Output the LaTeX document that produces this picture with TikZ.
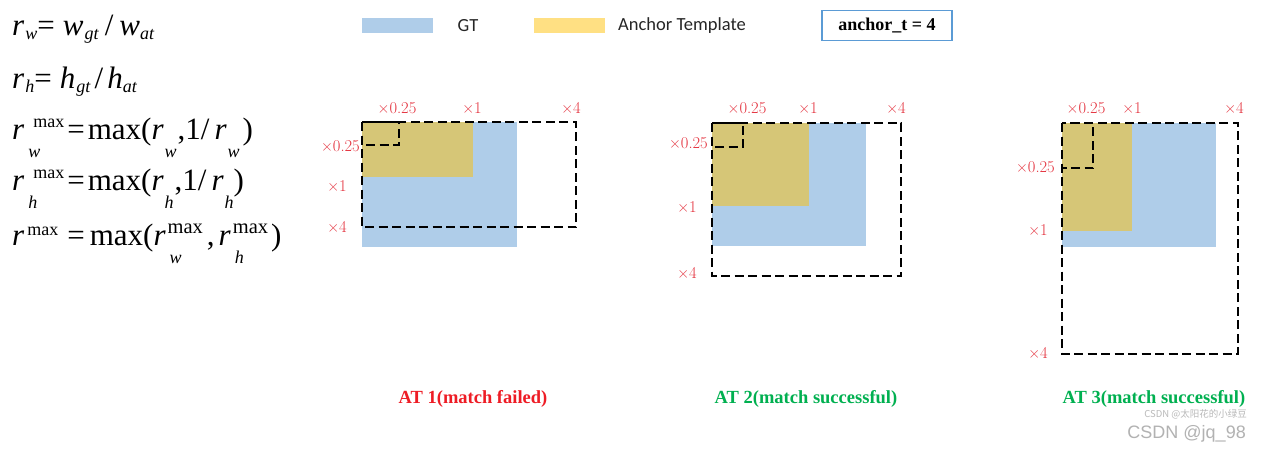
\documentclass[tikz,border=0pt]{standalone}
\usepackage[no-math]{fontspec}
\setmainfont{Liberation Serif}
\newfontfamily\lmfont{Latin Modern Roman}
\newfontfamily\legendfont{Carlito}
\newfontfamily\wmfont{Liberation Sans}
\newfontfamily\cjkfont{Noto Sans CJK SC}
\usepackage{tikz}
\usetikzlibrary{calc}

\definecolor{gtblue}{HTML}{AFCDE9}
\definecolor{atgold}{HTML}{D6C677}
\definecolor{keygold}{HTML}{FFE083}
\definecolor{lblred}{HTML}{E4303C}
\definecolor{failred}{HTML}{EE1C25}
\definecolor{okgreen}{HTML}{00B050}
\definecolor{boxblue}{HTML}{5B9BD5}

\newcommand{\scr}{\fontsize{18}{18}\selectfont}
\newcommand{\bigscr}{\fontsize{20.5}{20.5}\selectfont}
\newcommand{\rsb}[1]{\textit{r}\raisebox{-18pt}{\hspace{1pt}\scr\textit{#1}}}
\newcommand{\rms}[3][3pt]{\textit{r}\rlap{\hspace{4pt}\raisebox{-18pt}{\scr\textit{#2}}}\hspace{#1}\raisebox{12pt}{#3}}

\begin{document}
\begin{tikzpicture}[x=1pt, y=-1pt,
    formula/.style={anchor=base west, inner sep=0pt, font=\fontsize{31}{31}\selectfont},
    scalelbl/.style={text=lblred, inner sep=0pt, font=\lmfont\fontsize{16.5}{16.5}\selectfont},
    scalebox/.style={draw=black, line width=1.8pt, dash pattern=on 9pt off 4.5pt},
    attitle/.style={inner sep=0pt, font=\fontsize{18.5}{18.5}\selectfont\bfseries},
    swatch/.style={inner sep=0pt, minimum width=71pt, minimum height=15pt},
    keytext/.style={inner sep=0pt, text=black!85, font=\legendfont\fontsize{18.5}{18.5}\selectfont}]
\fill[white] (0,0) rectangle (1261,450);
\useasboundingbox (0,0) rectangle (1261,450);

% --- RATIO FORMULAS (LEFT) ---
\node[formula] (eqrw) at (12,35) {\textit{r}\raisebox{-4pt}{\hspace{1pt}\scr\textit{w}}=\hspace{8pt}\textit{w}\raisebox{-4pt}{\hspace{1pt}\scr\textit{gt}}\hspace{6pt}/\hspace{6pt}\textit{w}\raisebox{-4pt}{\scr\textit{at}}};
\node[formula] (eqrh) at (12,88) {\textit{r}\raisebox{-4pt}{\hspace{1pt}\scr\textit{h}}=\hspace{8pt}\textit{h}\raisebox{-4pt}{\hspace{1pt}\scr\textit{gt}}\hspace{4pt}/\hspace{4pt}\textit{h}\raisebox{-4pt}{\scr\textit{at}}};
\node[formula] (eqrwmax) at (12,139) {\rms[9pt]{w}{\scr max}\hspace{3pt}=\hspace{3pt}max(\rsb{w}\hspace{1pt},1/\hspace{5pt}\rsb{w}\hspace{3pt})};
\node[formula] (eqrhmax) at (12,190) {\rms[9pt]{h}{\scr max}\hspace{3pt}=\hspace{3pt}max(\rsb{h}\hspace{1pt},1/\hspace{5pt}\rsb{h})};
\node[formula] (eqrmax) at (12,245) {\textit{r}\hspace{3pt}\raisebox{10pt}{\scr max}\hspace{9pt}=\hspace{5pt}max(\rms[2pt]{w}{\bigscr max}\hspace{4pt},\hspace{4pt}\rms[2pt]{h}{\bigscr max}\hspace{3pt})};

% --- LEGEND ---
\node[swatch, fill=gtblue] (gtkey) at (397.5,25.5) {};
\node[keytext] (gtname) at (468,26) {GT};
\node[swatch, fill=keygold] (atkey) at (569,25.5) {};
\node[keytext, anchor=west] (atname) at (618,26) {Anchor Template};
\node[draw=boxblue, line width=1.5pt, minimum width=130pt, minimum height=30pt,
      font=\fontsize{18}{18}\selectfont\bfseries] (anchort) at (887,25.5) {anchor\_t = 4};

% --- AT 1 ---
\begin{scope}[shift={(362,122)}]
    \fill[gtblue] (0,0) rectangle (155,125);
    \fill[atgold] (0,0) rectangle (111,55);
    \draw[scalebox] (0,0) rectangle (37,23);
    \draw[scalebox] (0,0) rectangle (214,105);
    \node[scalelbl] (ati1) at (35,-14) {×0.25};
    \node[scalelbl] (atii1) at (110,-14) {×1};
    \node[scalelbl] (ativ1) at (209,-14) {×4};
    \node[scalelbl, anchor=east] (ati1l) at (-2,24) {×0.25};
    \node[scalelbl] (atii1l) at (-25,64) {×1};
    \node[scalelbl] (ativ1l) at (-25,105) {×4};
    \node[attitle, text=failred] (at1) at (111,277) {AT 1(match failed)};
\end{scope}

% --- AT 2 ---
\begin{scope}[shift={(712,123)}]
    \fill[gtblue] (0,0) rectangle (154,123);
    \fill[atgold] (0,0) rectangle (97,83);
    \draw[scalebox] (0,0) rectangle (31,24);
    \draw[scalebox] (0,0) rectangle (189,153);
    \node[scalelbl] (ati2) at (35,-15) {×0.25};
    \node[scalelbl] (atii2) at (96,-15) {×1};
    \node[scalelbl] (ativ2) at (184,-15) {×4};
    \node[scalelbl, anchor=east] (ati2l) at (-4,20) {×0.25};
    \node[scalelbl] (atii2l) at (-25,84) {×1};
    \node[scalelbl] (ativ2l) at (-25,150) {×4};
    \node[attitle, text=okgreen] (at2) at (94,276) {AT 2(match successful)};
\end{scope}

% --- AT 3 ---
\begin{scope}[shift={(1062,123)}]
    \fill[gtblue] (0,0) rectangle (154,124);
    \fill[atgold] (0,0) rectangle (70,108);
    \draw[scalebox] (0,0) rectangle (31,45);
    \draw[scalebox] (0,0) rectangle (176,231);
    \node[scalelbl] (ati3) at (24,-15) {×0.25};
    \node[scalelbl] (atii3) at (70,-15) {×1};
    \node[scalelbl] (ativ3) at (172,-15) {×4};
    \node[scalelbl, anchor=east] (ati3l) at (-7,44) {×0.25};
    \node[scalelbl] (atii3l) at (-24,107) {×1};
    \node[scalelbl] (ativ3l) at (-24,230) {×4};
    \node[attitle, text=okgreen] (at3) at (92,276) {AT 3(match successful)};
\end{scope}

% watermarks
\node[inner sep=0pt, anchor=base east, text=gray!55, font=\cjkfont\fontsize{9.5}{9.5}\selectfont] (wmsmall) at (1247,417) {CSDN @太阳花的小绿豆};
\node[inner sep=0pt, anchor=base east, text=gray!60, font=\wmfont\fontsize{18}{18}\selectfont] (wmmain) at (1246,438) {CSDN @jq\_98};
\end{tikzpicture}
\end{document}
